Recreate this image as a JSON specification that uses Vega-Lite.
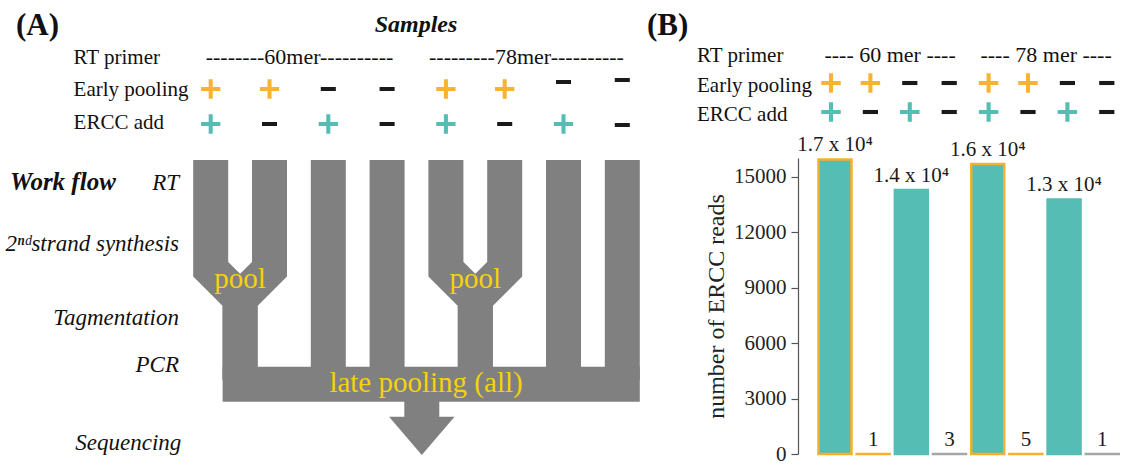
{
  "$schema": "https://vega.github.io/schema/vega-lite/v6.json",
  "padding": 0,
  "background": "white",
  "bounds": "flush",
  "spacing": 0,
  "config": {"view": {"stroke": null}, "legend": {"disable": true}, "text": {"font": "Liberation Serif", "color": "#111111"}},
  "hconcat": [
    {
      "width": 798,
      "height": 465,
      "encoding": {
        "x": {"field": "s", "type": "quantitative", "scale": {"domain": [-2.5833, 10.988], "nice": false, "zero": false}, "axis": null},
        "y": {"field": "d", "type": "quantitative", "scale": {"domain": [0, 465], "nice": false, "zero": false, "reverse": true}, "axis": null}
      },
      "layer": [
        {
          "data": {"values": [
            {"path": "lane1", "pt": 1, "s": 1, "d": 160}, {"path": "lane1", "pt": 2, "s": 1, "d": 269.2}, {"path": "lane1", "pt": 3, "s": 1.5, "d": 298.6}, {"path": "lane1", "pt": 4, "s": 1.5, "d": 380},
            {"path": "lane2", "pt": 1, "s": 2, "d": 160}, {"path": "lane2", "pt": 2, "s": 2, "d": 269.2}, {"path": "lane2", "pt": 3, "s": 1.5, "d": 298.6}, {"path": "lane2", "pt": 4, "s": 1.5, "d": 380},
            {"path": "lane3", "pt": 1, "s": 3, "d": 160}, {"path": "lane3", "pt": 2, "s": 3, "d": 380},
            {"path": "lane4", "pt": 1, "s": 4, "d": 160}, {"path": "lane4", "pt": 2, "s": 4, "d": 380},
            {"path": "lane5", "pt": 1, "s": 5, "d": 160}, {"path": "lane5", "pt": 2, "s": 5, "d": 269.2}, {"path": "lane5", "pt": 3, "s": 5.5, "d": 298.6}, {"path": "lane5", "pt": 4, "s": 5.5, "d": 380},
            {"path": "lane6", "pt": 1, "s": 6, "d": 160}, {"path": "lane6", "pt": 2, "s": 6, "d": 269.2}, {"path": "lane6", "pt": 3, "s": 5.5, "d": 298.6}, {"path": "lane6", "pt": 4, "s": 5.5, "d": 380},
            {"path": "lane7", "pt": 1, "s": 7, "d": 160}, {"path": "lane7", "pt": 2, "s": 7, "d": 380},
            {"path": "lane8", "pt": 1, "s": 8, "d": 160}, {"path": "lane8", "pt": 2, "s": 8, "d": 380},
            {"path": "stem", "pt": 1, "s": 4.59, "d": 395}, {"path": "stem", "pt": 2, "s": 4.59, "d": 418}
          ]},
          "mark": {"type": "line", "strokeWidth": 35, "strokeCap": "butt", "strokeJoin": "miter", "color": "#808080"},
          "encoding": {"detail": {"field": "path"}, "order": {"field": "pt", "type": "quantitative"}}
        },
        {
          "data": {"values": [{"s": 1.2024, "s2": 8.2976, "d": 366.7, "d2": 401.7}]},
          "mark": {"type": "rect", "color": "#808080"},
          "encoding": {"x2": {"field": "s2"}, "y2": {"field": "d2"}}
        },
        {
          "data": {"values": [{"s": 4.59, "d": 435.9}]},
          "mark": {"type": "point", "shape": "M-1,-0.585L1,-0.585L0,0.585Z", "size": 4290, "filled": true, "color": "#808080", "opacity": 1, "strokeWidth": 0}
        },
        {
          "data": {"values": [
            {"s": 1, "d": 89, "row": "Early pooling", "sign": "+"}, {"s": 2, "d": 89, "row": "Early pooling", "sign": "+"}, {"s": 3, "d": 89, "row": "Early pooling", "sign": "−"}, {"s": 4, "d": 89, "row": "Early pooling", "sign": "−"},
            {"s": 5, "d": 89, "row": "Early pooling", "sign": "+"}, {"s": 6, "d": 89, "row": "Early pooling", "sign": "+"}, {"s": 7, "d": 82, "row": "Early pooling", "sign": "−"}, {"s": 8, "d": 80, "row": "Early pooling", "sign": "−"},
            {"s": 1, "d": 124, "row": "ERCC add", "sign": "+"}, {"s": 2, "d": 124, "row": "ERCC add", "sign": "−"}, {"s": 3, "d": 124, "row": "ERCC add", "sign": "+"}, {"s": 4, "d": 124, "row": "ERCC add", "sign": "−"},
            {"s": 5, "d": 124, "row": "ERCC add", "sign": "+"}, {"s": 6, "d": 124, "row": "ERCC add", "sign": "−"}, {"s": 7, "d": 124, "row": "ERCC add", "sign": "+"}, {"s": 8, "d": 125, "row": "ERCC add", "sign": "−"}
          ]},
          "mark": {"type": "point", "filled": true, "size": 372, "opacity": 1, "strokeWidth": 0},
          "encoding": {
            "shape": {"field": "sign", "type": "nominal", "scale": {"domain": ["+", "−"], "range": ["M-1,-0.21H-0.21V-1H0.21V-0.21H1V0.21H0.21V1H-0.21V0.21H-1Z", "M-0.78,-0.21H0.78V0.21H-0.78Z"]}, "legend": null},
            "color": {"condition": {"test": "datum.sign === '−'", "value": "#1a1a1a"}, "field": "row", "type": "nominal", "scale": {"domain": ["Early pooling", "ERCC add"], "range": ["#F9B233", "#56BDB5"]}, "legend": null}
          }
        },
        {
          "data": {"values": [{"s": -2.311, "d": 35, "t": "(A)"}]},
          "mark": {"type": "text", "align": "left", "baseline": "alphabetic", "fontSize": 31, "fontWeight": "bold"},
          "encoding": {"text": {"field": "t"}}
        },
        {
          "data": {"values": [{"s": 4.491, "d": 32, "t": "Samples"}]},
          "mark": {"type": "text", "align": "center", "baseline": "alphabetic", "fontSize": 24, "fontWeight": "bold", "fontStyle": "italic"},
          "encoding": {"text": {"field": "t"}}
        },
        {
          "data": {"values": [{"s": -1.332, "d": 64, "t": "RT primer"}, {"s": -1.332, "d": 96, "t": "Early pooling"}, {"s": -1.332, "d": 129, "t": "ERCC add"}]},
          "mark": {"type": "text", "align": "left", "baseline": "alphabetic", "fontSize": 21},
          "encoding": {"text": {"field": "t"}}
        },
        {
          "data": {"values": [{"s": 2.51, "d": 64, "t": "--------60mer----------"}, {"s": 6.37, "d": 64, "t": "---------78mer----------"}]},
          "mark": {"type": "text", "align": "center", "baseline": "alphabetic", "fontSize": 22},
          "encoding": {"text": {"field": "t"}}
        },
        {
          "data": {"values": [{"s": -2.413, "d": 190, "t": "Work flow"}]},
          "mark": {"type": "text", "align": "left", "baseline": "alphabetic", "fontSize": 25, "fontWeight": "bold", "fontStyle": "italic"},
          "encoding": {"text": {"field": "t"}}
        },
        {
          "data": {"values": [{"s": 0.461, "d": 190, "t": "RT"}, {"s": 0.461, "d": 251, "t": "2ⁿᵈstrand synthesis"}, {"s": 0.461, "d": 325, "t": "Tagmentation"}, {"s": 0.461, "d": 372, "t": "PCR"}, {"s": 0.5, "d": 450, "t": "Sequencing"}]},
          "mark": {"type": "text", "align": "right", "baseline": "alphabetic", "fontSize": 23, "fontStyle": "italic"},
          "encoding": {"text": {"field": "t"}}
        },
        {
          "data": {"values": [{"s": 1.5, "d": 288, "t": "pool"}, {"s": 5.5, "d": 288, "t": "pool"}, {"s": 4.662, "d": 392, "t": "late pooling (all)"}]},
          "mark": {"type": "text", "align": "center", "baseline": "alphabetic", "fontSize": 29, "color": "#F5D20A"},
          "encoding": {"text": {"field": "t"}}
        }
      ]
    },
    {
      "bounds": "flush",
      "spacing": 0,
      "vconcat": [
        {
          "width": 324,
          "height": 158,
          "encoding": {
            "x": {"field": "s", "type": "quantitative", "scale": {"domain": [0.1624, 8.386], "nice": false, "zero": false}, "axis": null},
            "y": {"field": "d", "type": "quantitative", "scale": {"domain": [0, 158], "nice": false, "zero": false, "reverse": true}, "axis": null}
          },
          "layer": [
            {
              "data": {"values": [{"s": -3.67, "d": 35, "t": "(B)"}]},
              "mark": {"type": "text", "align": "left", "baseline": "alphabetic", "fontSize": 31, "fontWeight": "bold"},
              "encoding": {"text": {"field": "t"}}
            },
            {
              "data": {"values": [{"s": -2.401, "d": 62, "t": "RT primer"}, {"s": -2.401, "d": 92, "t": "Early pooling"}, {"s": -2.401, "d": 121, "t": "ERCC add"}]},
              "mark": {"type": "text", "align": "left", "baseline": "alphabetic", "fontSize": 21},
              "encoding": {"text": {"field": "t"}}
            },
            {
              "data": {"values": [{"s": 2.5, "d": 62, "t": "---- 60 mer ----"}, {"s": 6.46, "d": 62, "t": "---- 78 mer ----"}]},
              "mark": {"type": "text", "align": "center", "baseline": "alphabetic", "fontSize": 22},
              "encoding": {"text": {"field": "t"}}
            },
            {
              "data": {"values": [
                {"s": 1, "d": 83, "row": "Early pooling", "sign": "+"}, {"s": 2, "d": 83, "row": "Early pooling", "sign": "+"}, {"s": 3, "d": 83, "row": "Early pooling", "sign": "−"}, {"s": 4, "d": 83, "row": "Early pooling", "sign": "−"},
                {"s": 5, "d": 83, "row": "Early pooling", "sign": "+"}, {"s": 6, "d": 83, "row": "Early pooling", "sign": "+"}, {"s": 7, "d": 83, "row": "Early pooling", "sign": "−"}, {"s": 8, "d": 83, "row": "Early pooling", "sign": "−"},
                {"s": 1, "d": 112, "row": "ERCC add", "sign": "+"}, {"s": 2, "d": 112, "row": "ERCC add", "sign": "−"}, {"s": 3, "d": 112, "row": "ERCC add", "sign": "+"}, {"s": 4, "d": 112, "row": "ERCC add", "sign": "−"},
                {"s": 5, "d": 112, "row": "ERCC add", "sign": "+"}, {"s": 6, "d": 112, "row": "ERCC add", "sign": "−"}, {"s": 7, "d": 112, "row": "ERCC add", "sign": "+"}, {"s": 8, "d": 112, "row": "ERCC add", "sign": "−"}
              ]},
              "mark": {"type": "point", "filled": true, "size": 380, "opacity": 1, "strokeWidth": 0},
              "encoding": {
                "shape": {"field": "sign", "type": "nominal", "scale": {"domain": ["+", "−"], "range": ["M-1,-0.21H-0.21V-1H0.21V-0.21H1V0.21H0.21V1H-0.21V0.21H-1Z", "M-0.78,-0.21H0.78V0.21H-0.78Z"]}, "legend": null},
                "color": {"condition": {"test": "datum.sign === '−'", "value": "#1a1a1a"}, "field": "row", "type": "nominal", "scale": {"domain": ["Early pooling", "ERCC add"], "range": ["#F9B233", "#56BDB5"]}, "legend": null}
              }
            }
          ]
        },
        {
          "width": 324,
          "height": 296,
          "data": {"values": [
            {"sample": 1, "primer": "60 mer", "early": "+", "ercc": "+", "reads": 15920, "label": "1.7 x 10⁴"},
            {"sample": 2, "primer": "60 mer", "early": "+", "ercc": "−", "reads": 1, "label": "1"},
            {"sample": 3, "primer": "60 mer", "early": "−", "ercc": "+", "reads": 14270, "label": "1.4 x 10⁴"},
            {"sample": 4, "primer": "60 mer", "early": "−", "ercc": "−", "reads": 3, "label": "3"},
            {"sample": 5, "primer": "78 mer", "early": "+", "ercc": "+", "reads": 15680, "label": "1.6 x 10⁴"},
            {"sample": 6, "primer": "78 mer", "early": "+", "ercc": "−", "reads": 5, "label": "5"},
            {"sample": 7, "primer": "78 mer", "early": "−", "ercc": "+", "reads": 13760, "label": "1.3 x 10⁴"},
            {"sample": 8, "primer": "78 mer", "early": "−", "ercc": "−", "reads": 1, "label": "1"}
          ]},
          "encoding": {
            "x": {"field": "sample", "type": "quantitative", "scale": {"domain": [0.1624, 8.386], "nice": false, "zero": false}, "axis": null},
            "y": {"field": "reads", "type": "quantitative", "scale": {"domain": [0, 16000], "nice": false},
              "axis": {"values": [0, 3000, 6000, 9000, 12000, 15000], "format": "d", "grid": false, "domainColor": "#555555", "domainWidth": 1.2, "tickColor": "#555555", "tickWidth": 1.2, "tickSize": 7, "labelFont": "Liberation Serif", "labelFontSize": 21, "labelColor": "#222222", "labelPadding": 5, "title": "number of ERCC reads", "titleFont": "Liberation Serif", "titleFontSize": 24, "titleFontWeight": "normal", "titleColor": "#222222", "titlePadding": 5}}
          },
          "layer": [
            {
              "mark": {"type": "bar", "orient": "vertical", "size": 33, "strokeWidth": 2.5},
              "encoding": {
                "fill": {"field": "ercc", "type": "nominal", "scale": {"domain": ["+", "−"], "range": ["#56BDB5", "#A6A6A6"]}, "legend": null},
                "stroke": {"condition": {"test": "datum.early === '+'", "value": "#F7B02C"}, "field": "ercc", "type": "nominal", "scale": {"domain": ["+", "−"], "range": ["#56BDB5", "#A6A6A6"]}, "legend": null}
              }
            },
            {
              "mark": {"type": "text", "align": "center", "baseline": "alphabetic", "dy": -8, "fontSize": 21, "font": "Liberation Serif", "color": "#1a1a1a"},
              "encoding": {"text": {"field": "label"}}
            }
          ]
        }
      ]
    }
  ]
}
